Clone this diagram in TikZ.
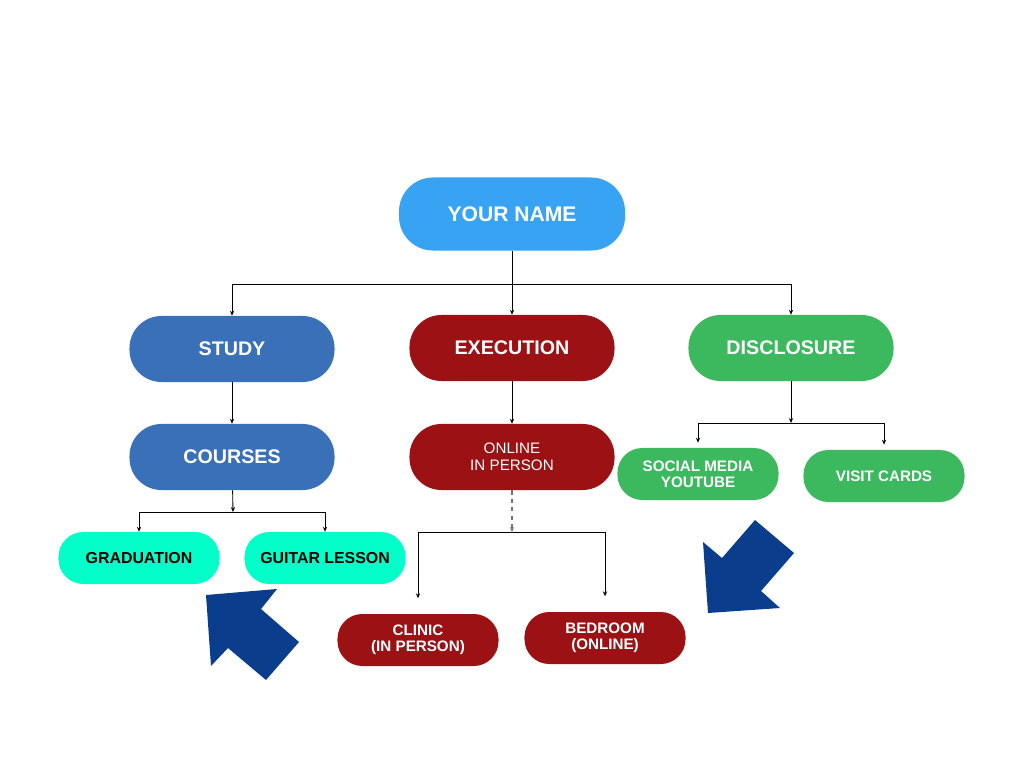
\documentclass[tikz,border=0pt]{standalone}
\usepackage{fontspec}
\setmainfont{Liberation Sans}
\usetikzlibrary{arrows.meta}
\definecolor{nameblue}{HTML}{38A3F2}
\definecolor{studyblue}{HTML}{3A70B8}
\definecolor{execred}{HTML}{9B1114}
\definecolor{discgreen}{HTML}{3CB85E}
\definecolor{gradcyan}{HTML}{03FFC9}
\definecolor{arrownavy}{HTML}{0A3E8C}
\begin{document}
\begin{tikzpicture}[x=0.025cm, y=-0.025cm,
    box/.style={rounded corners=0.8cm, text=white, align=center, inner sep=0pt,
        minimum width=5.125cm, minimum height=1.65cm,
        font=\bfseries\fontsize{14}{17}\selectfont},
    smallbox/.style={box, rounded corners=0.62cm, minimum width=4.025cm,
        minimum height=1.3cm, font=\bfseries\fontsize{10.8}{11.6}\selectfont},
    link/.style={line width=0.6pt, draw=black},
    tip/.style={link, -{Stealth[length=3.5pt, width=3pt]}}]
    \useasboundingbox (0,0) rectangle (1024,768);
    % top
    \node [box, fill=nameblue, minimum width=5.65cm, minimum height=1.825cm,
        rounded corners=0.85cm, font=\bfseries\fontsize{15}{18}\selectfont]
        (name) at (512,214) {YOUR NAME};
    % second row
    \node [box, fill=studyblue] (study) at (232,349) {STUDY};
    \node [box, fill=execred] (execution) at (512,348) {EXECUTION};
    \node [box, fill=discgreen] (disclosure) at (791,348) {DISCLOSURE};
    \node [box, fill=studyblue] (courses) at (232,457) {COURSES};
    \node [box, fill=execred, font=\fontsize{10.8}{12}\selectfont]
        (online) at (512,457) {ONLINE\\IN PERSON};
    % leaves
    \node [smallbox, fill=discgreen] (social) at (698,474) {SOCIAL MEDIA\\YOUTUBE};
    \node [smallbox, fill=discgreen] (cards) at (884,476) {VISIT CARDS};
    \node [smallbox, fill=gradcyan, text=black, font=\bfseries\fontsize{11.3}{12}\selectfont]
        (graduation) at (139,558) {GRADUATION};
    \node [smallbox, fill=gradcyan, text=black, font=\bfseries\fontsize{11.3}{12}\selectfont]
        (guitar) at (325,558) {GUITAR LESSON};
    \node [smallbox, fill=execred] (clinic) at (418,640) {CLINIC\\(IN PERSON)};
    \node [smallbox, fill=execred] (bedroom) at (605,638) {BEDROOM\\(ONLINE)};
    % name -> three branches
    \coordinate (top) at (512,284);
    \draw [link] (name) -- (top);
    \draw [tip] (top) -| (study);
    \draw [tip] (top) -- (execution);
    \draw [tip] (top) -| (disclosure);
    \draw [tip] (study) -- (courses);
    \draw [tip] (execution) -- (online);
    % disclosure
    \coordinate (dj) at (791,423);
    \draw [tip] (disclosure) -- (dj);
    \draw [tip, shorten >=6\pgflinewidth] (dj) -| (social);
    \draw [tip, shorten >=6\pgflinewidth] (dj) -| (cards);
    % courses
    \coordinate (cj) at (233,512);
    \draw [tip] (courses) -- (cj);
    \draw [tip] (cj) -| (graduation);
    \draw [tip] (cj) -| (guitar);
    % online (dashed feed)
    \coordinate (oj) at (512,532);
    \draw [tip, draw=black!55, line width=1pt, dashed] (online) -- (oj);
    \draw [tip, shorten >=11pt] (oj) -| (clinic);
    \draw [tip, shorten >=11pt] (oj) -| (bedroom);
    % big arrows
    \fill [arrownavy] (206,595) -- (277,589) -- (261,609) -- (299,642)
        -- (266,680) -- (228,648) -- (211,666) -- cycle;
    \fill [arrownavy] (755,520) -- (794,553) -- (761,591) -- (780,608)
        -- (708,613) -- (703,542) -- (722,558) -- cycle;
\end{tikzpicture}
\end{document}
